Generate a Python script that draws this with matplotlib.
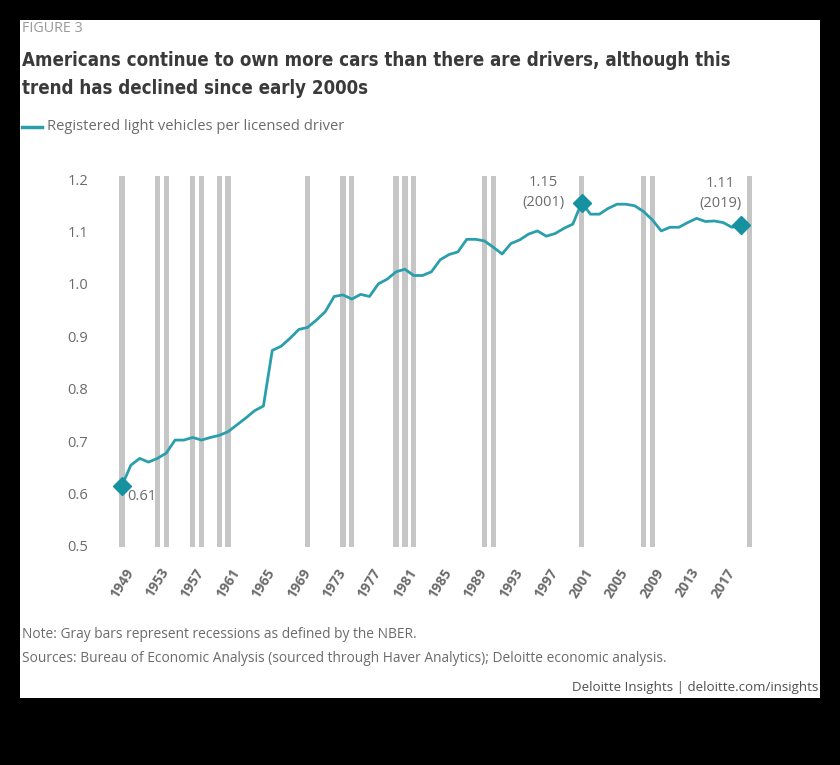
import matplotlib
matplotlib.use("Agg")
import matplotlib.pyplot as plt
from matplotlib.patches import Rectangle
from matplotlib import font_manager as fm

# data
years = list(range(1949, 2020))
vehicles_per_driver = [
    0.615, 0.654, 0.667, 0.660, 0.667, 0.677, 0.702, 0.702, 0.707, 0.702,
    0.707, 0.711, 0.718, 0.731, 0.744, 0.758, 0.767, 0.873, 0.881, 0.896,
    0.913, 0.917, 0.931, 0.947, 0.976, 0.979, 0.971, 0.980, 0.976, 1.000,
    1.009, 1.023, 1.028, 1.016, 1.016, 1.023, 1.046, 1.056, 1.061, 1.085,
    1.085, 1.082, 1.070, 1.057, 1.077, 1.084, 1.095, 1.101, 1.091, 1.096,
    1.106, 1.114, 1.155, 1.133, 1.133, 1.144, 1.152, 1.152, 1.149, 1.138,
    1.122, 1.101, 1.108, 1.108, 1.117, 1.125, 1.119, 1.120, 1.117, 1.108,
    1.112,
]
recession_years = [1949, 1953, 1954, 1957, 1958, 1960, 1961, 1970, 1974, 1975,
                   1980, 1981, 1982, 1990, 1991, 2001, 2008, 2009, 2020]
highlight_years = [1949, 2001, 2019]
highlight_labels = ["0.61", "1.15\n(2001)", "1.11\n(2019)"]
xtick_years = list(range(1949, 2018, 4))
yticks = [0.5, 0.6, 0.7, 0.8, 0.9, 1.0, 1.1, 1.2]

# label offsets (points) relative to each highlighted point
label_offsets = [(3.6, -8), (-27.5, 7.5), (-14.5, 22.5)]
label_ha = ["left", "center", "center"]

TEAL = "#2a9fab"
DIAMOND = "#15919f"
GRAY_TXT = "#6b6b6b"
BAR = "#c6c6c6"

# pick a condensed bold face for the title if one is around
title_kw = dict(family=["Liberation Sans", "DejaVu Sans"], fontweight="bold", fontsize=12)
for fam, stretch in [("Liberation Sans Narrow", "normal"), ("DejaVu Sans", "condensed"),
                     ("Open Sans", "condensed")]:
    try:
        path = fm.findfont(fm.FontProperties(family=fam, weight="bold", stretch=stretch),
                           fallback_to_default=False)
    except ValueError:
        continue
    if "Narrow" in path or "Cond" in path:
        title_kw = dict(family=fam, fontweight="bold", fontstretch=stretch, fontsize=13.4)
        break

W, H = 840, 765
fig = plt.figure(figsize=(W / 100, H / 100), dpi=100, facecolor="black")
fig.patches.append(Rectangle((20 / W, 1 - 698 / H), 800 / W, 678 / H,
                             transform=fig.transFigure, facecolor="white",
                             edgecolor="none", zorder=-5))

sans = ["Open Sans", "DejaVu Sans"]

fig.text(22 / W, 1 - 29 / H, "FIGURE 3", family=sans, fontsize=10.3,
         color="#999999", va="center")
fig.text(22 / W, 1 - 60 / H, "Americans continue to own more cars than there are drivers, although this",
         color="#3a3a3a", va="center", **title_kw)
fig.text(22 / W, 1 - 89 / H, "trend has declined since early 2000s",
         color="#3a3a3a", va="center", **title_kw)

# legend
fig.lines.append(plt.Line2D([22 / W, 42 / W], [1 - 127 / H] * 2, transform=fig.transFigure,
                            color=TEAL, lw=2.5))
fig.text(47 / W, 1 - 127 / H, "Registered light vehicles per licensed driver",
         family=sans, fontsize=10.6, color=GRAY_TXT, va="center")

# axes placement: xlim 1947-2022, ylim 0.49-1.21
ax = fig.add_axes([104.3 / W, 1 - 551.2 / H, 663 / W, 377.4 / H])
ax.set_zorder(2)
ax.set_xlim(1947, 2022)
ax.set_ylim(0.49, 1.21)
ax.patch.set_alpha(0)
for s in ax.spines.values():
    s.set_visible(False)

ax.bar(recession_years, [0.708] * len(recession_years), bottom=0.498,
       width=0.6, color=BAR, zorder=1)
ax.plot(years, vehicles_per_driver, color=TEAL, lw=2, zorder=3)

hl_vals = [vehicles_per_driver[years.index(y)] for y in highlight_years]
ax.plot(highlight_years, hl_vals, linestyle="none", marker="D", markersize=9,
        color=DIAMOND, zorder=4)

for yr, val, lab, off, ha in zip(highlight_years, hl_vals, highlight_labels,
                                 label_offsets, label_ha):
    ax.annotate(lab, (yr, val), xytext=off, textcoords="offset points",
                ha=ha, va="center", family=sans, fontsize=10.5,
                color=GRAY_TXT, linespacing=1.45)

ax.set_yticks(yticks)
ax.set_yticklabels([f"{v:.1f}" for v in yticks], family=sans, fontsize=10.5, color=GRAY_TXT)
ax.set_xticks(xtick_years)
ax.set_xticklabels([str(y) for y in xtick_years], family=sans, fontsize=10,
                   fontweight="bold", color=GRAY_TXT, rotation=58, ha="center",
                   va="top")
ax.tick_params(axis="both", length=0)
ax.tick_params(axis="y", pad=11.5)
ax.tick_params(axis="x", pad=10.5)

fig.text(22 / W, 1 - 635 / H, "Note: Gray bars represent recessions as defined by the NBER.",
         family=sans, fontsize=9.9, color=GRAY_TXT, va="center")
fig.text(22 / W, 1 - 659 / H,
         "Sources: Bureau of Economic Analysis (sourced through Haver Analytics); Deloitte economic analysis.",
         family=sans, fontsize=9.9, color=GRAY_TXT, va="center")
fig.text(818 / W, 1 - 687 / H, "Deloitte Insights | deloitte.com/insights",
         family=sans, fontsize=9.6, color="#505050", va="center", ha="right")

fig.savefig("out.png", dpi=100, facecolor="black")
